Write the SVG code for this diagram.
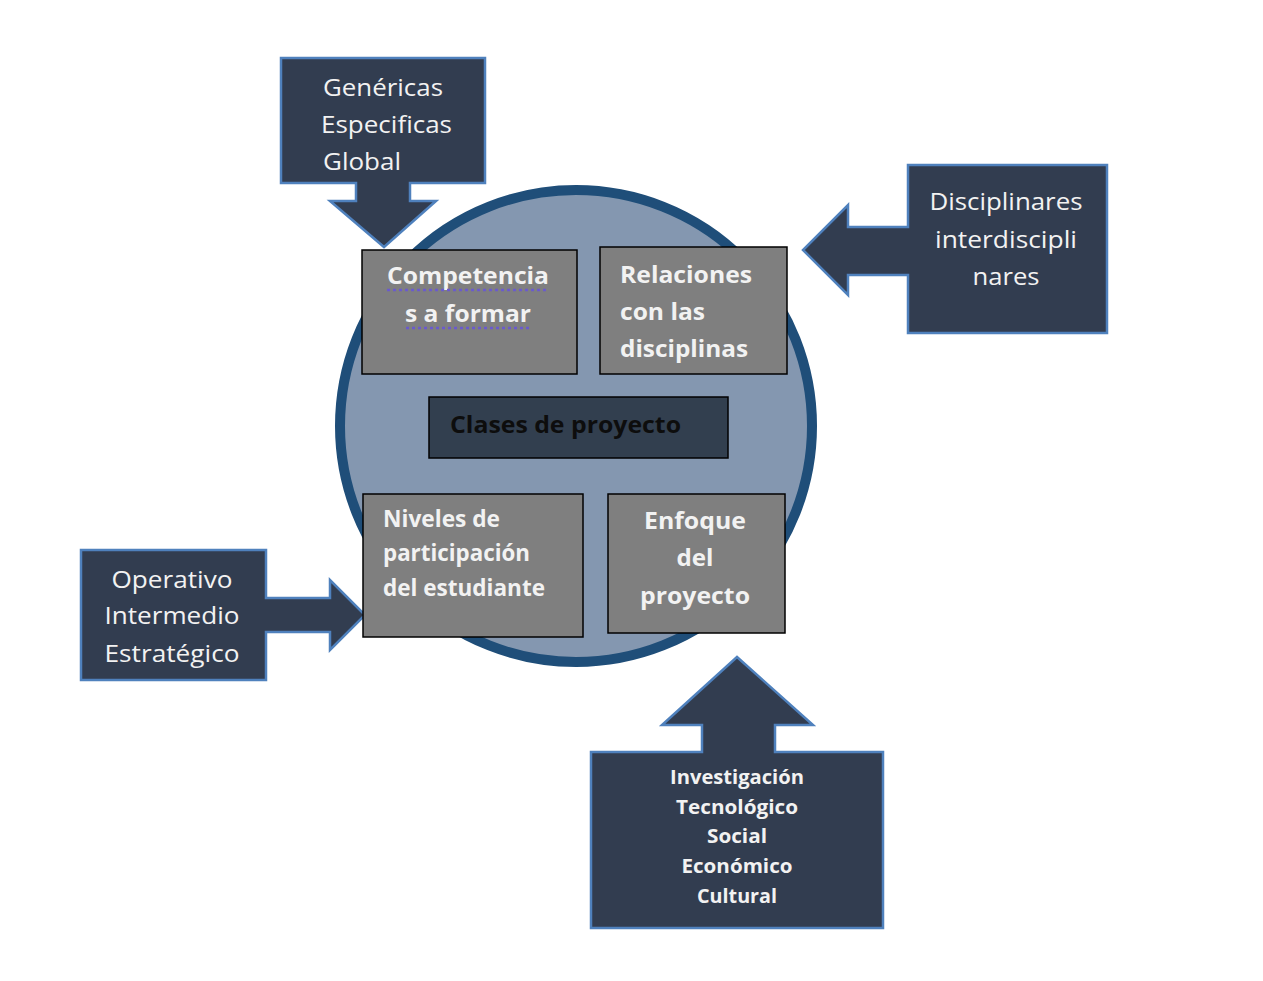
<svg xmlns="http://www.w3.org/2000/svg" width="1263" height="981" viewBox="0 0 1263 981">
<style>
.call{fill:#323D50;stroke:#4F81BD;stroke-width:2.5;stroke-linejoin:miter}
.gbox{fill:#7F7F7F;stroke:#000;stroke-width:1.5}
text{font-family:"Open Sans",Lato,sans-serif;fill:#F2F2F2}
.ot{font-size:24px}
.it{font-weight:bold;font-size:23px}
.bt{font-weight:bold;font-size:19px}
.sp{stroke:#6A5ACD;stroke-width:2.5;stroke-dasharray:3 3}
</style>
<rect width="1263" height="981" fill="#fff"/>
<g id="circle">
<circle cx="576" cy="426" r="236" fill="#8497B0" stroke="#1F4E79" stroke-width="10"/>
</g>
<g id="connectors">
<path class="call" d="M281,58 H485 V183 H410 V201 H436 L384,247 L330,201 H356 V183 H281 Z"/>
<path class="call" d="M908,165 H1107 V333 H908 V275 H848 V295 L803,250 L848,205 V227 H908 Z"/>
<path class="call" d="M81,550 H266 V598 H330 V580 L365,615 L330,650 V632 H266 V680 H81 Z"/>
<path class="call" d="M591,752 H702 V725 H662 L737,657 L813,725 H775 V752 H883 V928 H591 Z"/>
</g>
<g id="n-genericas">
<text class="ot" x="323" y="96" textLength="120" lengthAdjust="spacingAndGlyphs">Genéricas</text>
<text class="ot" x="321" y="133" textLength="131" lengthAdjust="spacingAndGlyphs">Especificas</text>
<text class="ot" x="323" y="170" textLength="78" lengthAdjust="spacingAndGlyphs">Global</text>
</g>
<g id="n-disciplinares">
<text class="ot" x="1006" y="210" text-anchor="middle" textLength="153" lengthAdjust="spacingAndGlyphs">Disciplinares</text>
<text class="ot" x="1006" y="248" text-anchor="middle" textLength="142" lengthAdjust="spacingAndGlyphs">interdiscipli</text>
<text class="ot" x="1006" y="285" text-anchor="middle" textLength="67" lengthAdjust="spacingAndGlyphs">nares</text>
</g>
<g id="n-operativo">
<text class="ot" x="172" y="588" text-anchor="middle" textLength="121" lengthAdjust="spacingAndGlyphs">Operativo</text>
<text class="ot" x="172" y="624" text-anchor="middle" textLength="135" lengthAdjust="spacingAndGlyphs">Intermedio</text>
<text class="ot" x="172" y="662" text-anchor="middle" textLength="135" lengthAdjust="spacingAndGlyphs">Estratégico</text>
</g>
<g id="n-investigacion">
<text class="bt" x="737" y="784" text-anchor="middle" textLength="134" lengthAdjust="spacingAndGlyphs">Investigación</text>
<text class="bt" x="737" y="814" text-anchor="middle" textLength="122" lengthAdjust="spacingAndGlyphs">Tecnológico</text>
<text class="bt" x="737" y="843" text-anchor="middle" textLength="60" lengthAdjust="spacingAndGlyphs">Social</text>
<text class="bt" x="737" y="873" text-anchor="middle" textLength="111" lengthAdjust="spacingAndGlyphs">Económico</text>
<text class="bt" x="737" y="903" text-anchor="middle" textLength="80" lengthAdjust="spacingAndGlyphs">Cultural</text>
</g>
<g id="n-competencias">
<rect class="gbox" x="362" y="250" width="215" height="124"/>
<text class="it" x="468" y="284" text-anchor="middle" textLength="162" lengthAdjust="spacingAndGlyphs">Competencia</text>
<text class="it" x="468" y="322" text-anchor="middle" textLength="126" lengthAdjust="spacingAndGlyphs">s a formar</text>
<line class="sp" x1="387" y1="290" x2="549" y2="290"/>
<line class="sp" x1="406" y1="328" x2="531" y2="328"/>
</g>
<g id="n-relaciones">
<rect class="gbox" x="600" y="247" width="187" height="127"/>
<text class="it" x="620" y="283" textLength="132" lengthAdjust="spacingAndGlyphs">Relaciones</text>
<text class="it" x="620" y="320" textLength="85" lengthAdjust="spacingAndGlyphs">con las</text>
<text class="it" x="620" y="357" textLength="128" lengthAdjust="spacingAndGlyphs">disciplinas</text>
</g>
<g id="n-clases">
<rect x="429" y="397" width="299" height="61" fill="#323F4F" stroke="#000" stroke-width="1.5"/>
<text class="it" x="450" y="433" style="fill:#0D0D0D" textLength="231" lengthAdjust="spacingAndGlyphs">Clases de proyecto</text>
</g>
<g id="n-niveles">
<rect class="gbox" x="363" y="494" width="220" height="143"/>
<text class="it" x="383" y="527" textLength="117" lengthAdjust="spacingAndGlyphs">Niveles de</text>
<text class="it" x="383" y="561" textLength="147" lengthAdjust="spacingAndGlyphs">participación</text>
<text class="it" x="383" y="596" textLength="162" lengthAdjust="spacingAndGlyphs">del estudiante</text>
</g>
<g id="n-enfoque">
<rect class="gbox" x="608" y="494" width="177" height="139"/>
<text class="it" x="695" y="529" text-anchor="middle" textLength="102" lengthAdjust="spacingAndGlyphs">Enfoque</text>
<text class="it" x="695" y="566" text-anchor="middle" textLength="37" lengthAdjust="spacingAndGlyphs">del</text>
<text class="it" x="695" y="604" text-anchor="middle" textLength="110" lengthAdjust="spacingAndGlyphs">proyecto</text>
</g>
</svg>
